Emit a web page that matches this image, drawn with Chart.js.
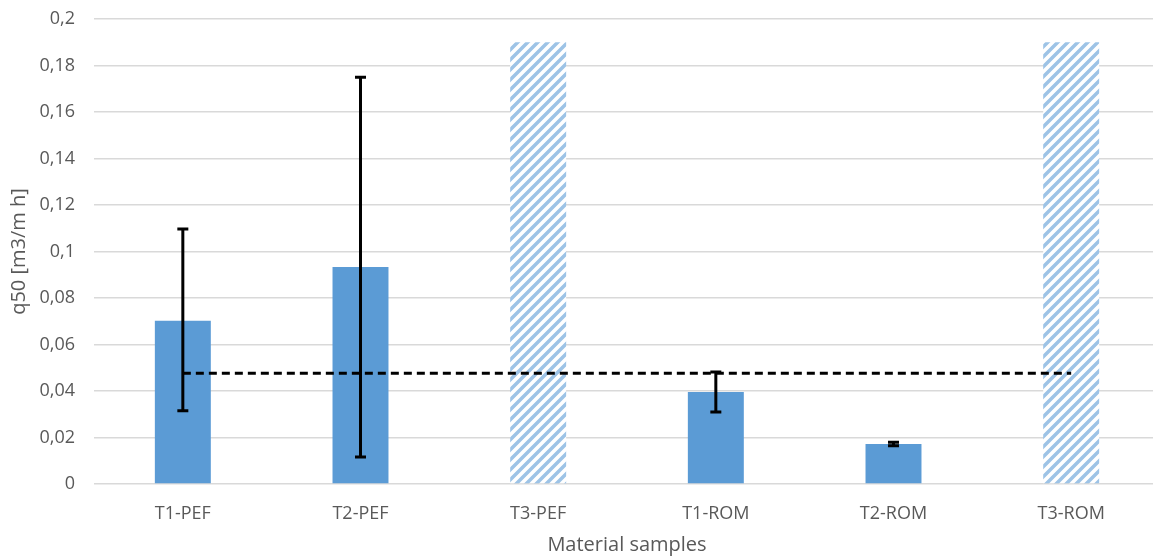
<!DOCTYPE html>
<html>
<head>
<meta charset="utf-8">
<script src="https://cdn.jsdelivr.net/npm/chart.js@4.4.1/dist/chart.umd.min.js"></script>
<style>
  html, body { margin: 0; padding: 0; background: #fff; overflow: hidden; }
  #wrap { width: 1160px; height: 557px; }
</style>
</head>
<body>
<div id="wrap"><canvas id="grafico" width="1160" height="557"></canvas></div>
<script>
// Datos
const muestras = ['T1-PEF', 'T2-PEF', 'T3-PEF', 'T1-ROM', 'T2-ROM', 'T3-ROM'];
const q50 = [0.0702, 0.0933, null, 0.0396, 0.0172, null];
const sinDatos = [null, null, 0.19, null, null, 0.19];   // barras rayadas
const errorMin = [0.0315, 0.0116, null, 0.031, 0.0164, null];
const errorMax = [0.1097, 0.175, null, 0.0482, 0.018, null];
const limite = [0.0476, 0.0476, 0.0476, 0.0476, 0.0476, 0.0476];

const fuente = "'Open Sans', sans-serif";

// Patrón de rayas diagonales
function crearRayado() {
    const c = document.createElement('canvas');
    c.width = 10; c.height = 10;
    const g = c.getContext('2d');
    g.fillStyle = '#ffffff';
    g.fillRect(0, 0, 10, 10);
    g.strokeStyle = '#9dc3e6';
    g.lineWidth = 3.5;
    g.beginPath();
    g.moveTo(-2, 12); g.lineTo(12, -2);
    g.moveTo(-7, 7); g.lineTo(7, -7);
    g.moveTo(3, 17); g.lineTo(17, 3);
    g.stroke();
    return g.createPattern(c, 'repeat');
}

// Plugin para las barras de error
const barrasError = {
    id: 'barrasError',
    afterDatasetsDraw(chart) {
        const ctx = chart.ctx;
        const x = chart.scales.x, y = chart.scales.y;
        ctx.save();
        ctx.strokeStyle = '#000';
        ctx.lineWidth = 3;
        errorMin.forEach((min, i) => {
            if (min === null) return;
            const px = x.getPixelForValue(i);
            const y1 = y.getPixelForValue(min);
            const y2 = y.getPixelForValue(errorMax[i]);
            ctx.beginPath();
            ctx.moveTo(px, y1); ctx.lineTo(px, y2);
            ctx.moveTo(px - 5.5, y1); ctx.lineTo(px + 5.5, y1);
            ctx.moveTo(px - 5.5, y2); ctx.lineTo(px + 5.5, y2);
            ctx.stroke();
        });
        ctx.restore();
    }
};

const ctx = document.getElementById('grafico').getContext('2d');
window.chart = new Chart(ctx, {
    type: 'bar',
    data: {
        labels: muestras,
        datasets: [
            {
                type: 'line',
                data: limite,
                borderColor: '#000',
                borderWidth: 3,
                borderDash: [8, 5],
                pointRadius: 0,
                fill: false,
                order: 0
            },
            {
                data: q50,
                backgroundColor: '#5b9bd5',
                grouped: false,
                barPercentage: 0.315,
                categoryPercentage: 1,
                order: 2
            },
            {
                data: sinDatos,
                backgroundColor: crearRayado(),
                grouped: false,
                barPercentage: 0.315,
                categoryPercentage: 1,
                order: 2
            }
        ]
    },
    options: {
        responsive: false,
        animation: false,
        layout: { padding: { top: 19, right: 0, bottom: 0, left: 0 } },
        plugins: {
            legend: { display: false },
            tooltip: { enabled: false }
        },
        scales: {
            x: {
                grid: { display: false },
                border: { display: false },
                ticks: { color: '#595959', font: { family: fuente, size: 18 }, padding: 11 },
                title: {
                    display: true,
                    text: 'Material samples',
                    color: '#595959',
                    font: { family: fuente, size: 20 },
                    padding: { top: 2, bottom: 0 }
                },
                afterFit: s => { s.height = 73; }
            },
            y: {
                min: 0,
                max: 0.2,
                grid: { color: '#d9d9d9', lineWidth: 1.5, drawTicks: false },
                border: { display: false },
                ticks: {
                    stepSize: 0.02,
                    color: '#595959',
                    font: { family: fuente, size: 18 },
                    padding: 19,
                    callback: v => String(Math.round(v * 100) / 100).replace('.', ',')
                },
                title: {
                    display: true,
                    text: 'q50 [m3/m h]',
                    color: '#595959',
                    font: { family: fuente, size: 20 },
                    padding: { top: 7, bottom: 0 }
                },
                afterFit: s => {
                    s.width = 94;
                    s.paddingTop = 0;
                    s.paddingBottom = 0;
                }
            }
        }
    },
    plugins: [barrasError]
});
</script>
</body>
</html>
